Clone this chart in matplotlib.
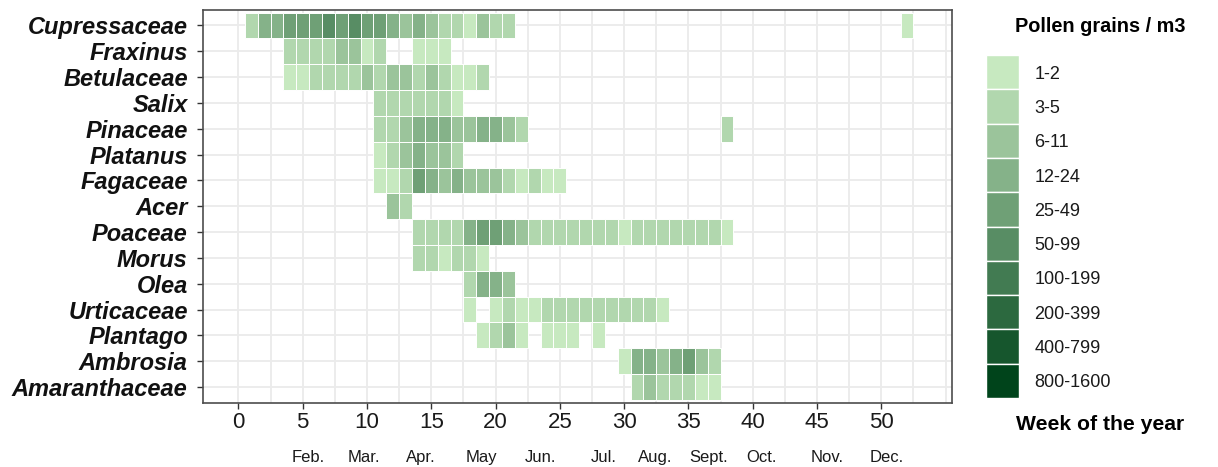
import numpy as np
import matplotlib
matplotlib.use('Agg')
import matplotlib.pyplot as plt
from matplotlib import transforms

# taxa, top to bottom
taxa = ['Cupressaceae', 'Fraxinus', 'Betulaceae', 'Salix', 'Pinaceae', 'Platanus',
        'Fagaceae', 'Acer', 'Poaceae', 'Morus', 'Olea', 'Urticaceae', 'Plantago',
        'Ambrosia', 'Amaranthaceae']

# first week with pollen, then concentration class per week (0 = none)
first_week = [1, 4, 4, 11, 11, 11, 11, 12, 14, 14, 18, 18, 19, 30, 31]
cupressaceae = [2, 4, 4, 5, 5, 5, 6, 5, 6, 5, 5, 4, 3, 4, 3, 2, 2, 1, 3, 2, 2] + [0] * 30 + [1]
fraxinus = [2, 2, 2, 2, 3, 3, 1, 2, 0, 0, 1, 1, 1]
betulaceae = [1, 1, 2, 2, 2, 2, 3, 2, 3, 3, 2, 3, 2, 1, 1, 2]
salix = [2, 2, 2, 2, 2, 2, 1]
pinaceae = [2, 2, 3, 4, 4, 4, 3, 3, 4, 4, 3, 2] + [0] * 15 + [2]
platanus = [1, 2, 3, 4, 3, 3, 2]
fagaceae = [1, 1, 2, 5, 4, 3, 4, 3, 3, 3, 2, 1, 2, 1, 1]
acer = [3, 2]
poaceae = [2, 2, 2, 2, 4, 5, 5, 4, 3, 2, 2, 2, 2, 2, 2, 2, 1, 2, 2, 2, 2, 2, 2, 2, 1]
morus = [2, 2, 1, 2, 2, 1]
olea = [2, 4, 4, 3]
urticaceae = [1, 0, 1, 2, 1, 1, 2, 2, 2, 2, 2, 2, 2, 2, 2, 1]
plantago = [1, 2, 3, 1, 0, 1, 1, 1, 0, 1]
ambrosia = [1, 4, 4, 3, 4, 5, 3, 2]
amaranthaceae = [2, 3, 2, 2, 2, 1, 1]

series = [cupressaceae, fraxinus, betulaceae, salix, pinaceae, platanus, fagaceae,
          acer, poaceae, morus, olea, urticaceae, plantago, ambrosia, amaranthaceae]

classes = ['1-2', '3-5', '6-11', '12-24', '25-49', '50-99', '100-199',
           '200-399', '400-799', '800-1600']
class_colors = ['#c7e9c0', '#b1d7ae', '#9bc49b', '#85b289', '#6fa076',
                '#588d64', '#427b52', '#2c693f', '#16562d', '#00441b']

month_names = ['Feb.', 'Mar.', 'Apr.', 'May', 'Jun.', 'Jul.', 'Aug.', 'Sept.',
               'Oct.', 'Nov.', 'Dec.']
month_weeks = [5.4, 9.8, 14.2, 18.9, 23.5, 28.4, 32.4, 36.6, 40.7, 45.8, 50.4]

plt.rcParams['font.family'] = ['Liberation Sans', 'DejaVu Sans']

W, H = 1218, 467
fig = plt.figure(figsize=(W / 100, H / 100), dpi=100)
ax = fig.add_axes([203 / W, 1 - 402.5 / H, (952 - 203) / W, (402.5 - 10) / H])

for x in np.arange(0, 55.1, 2.5):
    ax.axvline(x, color='#ebebeb', lw=1.3, zorder=0)
for y in range(len(taxa)):
    ax.axhline(y, color='#ebebeb', lw=1.3, zorder=0)

for i, vals in enumerate(series):
    weeks = [first_week[i] + j for j, v in enumerate(vals) if v > 0]
    cols = [class_colors[v - 1] for v in vals if v > 0]
    ax.bar(weeks, 1, width=1, bottom=i - 0.5, color=cols, edgecolor='white',
           linewidth=0.7, zorder=2)

ax.set_xlim(-2.75, 55.5)
ax.set_ylim(len(taxa) - 0.4, -0.6)
ax.set_xticks(range(0, 51, 5))
ax.set_xticklabels([str(v) for v in range(0, 51, 5)], fontsize=16, color='#1a1a1a')
ax.set_yticks(range(len(taxa)))
ax.set_yticklabels(taxa, fontsize=17, fontweight='bold', fontstyle='italic', color='#111111')
ax.tick_params(axis='x', length=4, width=1, color='#333333', pad=3)
ax.tick_params(axis='y', length=4, width=1, color='#333333', pad=7)
for s in ax.spines.values():
    s.set_color('#4d4d4d')
    s.set_linewidth(1.2)

trans = transforms.blended_transform_factory(ax.transData, ax.transAxes)
for name, wk in zip(month_names, month_weeks):
    ax.text(wk, -0.139, name, transform=trans, ha='center', va='center',
            fontsize=12, color='#1a1a1a')

# legend
lax = fig.add_axes([986 / W, 1 - 398 / H, 33 / W, 343 / H])
lax.barh(range(len(classes)), 1, height=1, color=class_colors, edgecolor='white', linewidth=1)
lax.set_xlim(0, 1)
lax.set_ylim(len(classes) - 0.5, -0.5)
lax.set_xticks([])
lax.set_yticks(range(len(classes)))
lax.yaxis.tick_right()
lax.set_yticklabels(classes, fontsize=13, color='#1a1a1a')
lax.tick_params(axis='y', length=0, pad=11)
for s in lax.spines.values():
    s.set_visible(False)

fig.text(1100 / W, 1 - 27 / H, 'Pollen grains / m3', ha='center', va='center',
         fontsize=14.3, fontweight='bold')
fig.text(1100 / W, 1 - 424 / H, 'Week of the year', ha='center', va='center',
         fontsize=15.2, fontweight='bold')

fig.savefig('out.png', dpi=100)
